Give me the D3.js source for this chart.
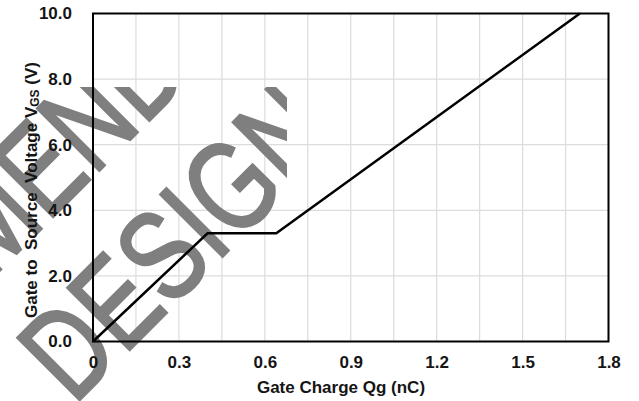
<!DOCTYPE html>
<html lang="en">
<head>
    <meta charset="utf-8">
    <title>Gate Charge</title>
    <script src="https://cdn.jsdelivr.net/npm/d3@7"></script>
</head>
<style>
  body { margin: 0; background: #fff; }
  text { font-family: "Liberation Sans", Arial, sans-serif; }
</style>
<body>
<script>
 // curve
 var qg  = [0, 0.40, 0.64, 1.70];
 var vgs = [0, 3.3, 3.3, 10.0];

 var xTicks = [0, 0.3, 0.6, 0.9, 1.2, 1.5, 1.8];
 var xGrid = d3.range(0, 1.81, 0.15);
 var yTicks = [0, 2, 4, 6, 8, 10];

 var watermark = ["NOT RECOMMENDED", "FOR NEW DESIGN"];

 var W = 639, H = 401;
 var pLeft = 93, pRight = 608.5, pTop = 13.5, pBottom = 341.5;

 var svg = d3.select("body").append("svg")
             .attr("width", W)
             .attr("height", H);

 var x = d3.scaleLinear().domain([0, 1.8]).range([pLeft, pRight]);
 var y = d3.scaleLinear().domain([0, 10]).range([pBottom, pTop]);

 // grid
 svg.append("g").selectAll("line").data(xGrid).enter().append("line")
    .attr("x1", d => x(d)).attr("x2", d => x(d))
    .attr("y1", pTop).attr("y2", pBottom)
    .attr("stroke", "#dcdcdc").attr("stroke-width", 1.2);
 svg.append("g").selectAll("line").data(yTicks).enter().append("line")
    .attr("x1", pLeft).attr("x2", pRight)
    .attr("y1", d => y(d)).attr("y2", d => y(d))
    .attr("stroke", "#dcdcdc").attr("stroke-width", 1.2);

 // watermark, under everything else, cut like the scan
 svg.append("clipPath").attr("id", "wm")
    .append("polygon").attr("points", "0,87 287,87 287,401 56,401 0,345");
 var wm = svg.append("g").attr("clip-path", "url(#wm)")
    .append("g").attr("transform", "translate(33.4,446) rotate(-45) scale(0.765,1)");
 wm.selectAll("text").data(watermark).enter().append("text")
    .attr("x", 0).attr("y", (d, i) => (i - 1) * 148)
    .attr("text-anchor", "middle")
    .attr("font-size", 128)
    .attr("fill", "#7f7f7f")
    .attr("stroke", "#7f7f7f").attr("stroke-width", 2.5)
    .text(d => d);

 // axes (labels only, frame drawn below)
 var xAxis = svg.append("g")
    .attr("transform", "translate(0," + pBottom + ")")
    .call(d3.axisBottom(x).tickValues(xTicks).tickSize(0).tickPadding(14)
          .tickFormat(d => d === 0 ? "0" : d3.format(".1f")(d)));
 var yAxis = svg.append("g")
    .attr("transform", "translate(" + pLeft + ",0)")
    .call(d3.axisLeft(y).tickValues(yTicks).tickSize(0).tickPadding(21)
          .tickFormat(d3.format(".1f")));
 [xAxis, yAxis].forEach(function(a) {
     a.select(".domain").remove();
     a.selectAll("text")
      .attr("font-family", "Liberation Sans, Arial, sans-serif")
      .attr("font-size", 17).attr("font-weight", "bold").attr("fill", "#151515");
 });

 // frame
 svg.append("rect")
    .attr("x", pLeft).attr("y", pTop)
    .attr("width", pRight - pLeft).attr("height", pBottom - pTop)
    .attr("fill", "none").attr("stroke", "#000").attr("stroke-width", 2);

 // curve
 var line = d3.line()
              .x(function(d, i) { return x(qg[i]); })
              .y(function(d, i) { return y(vgs[i]); });
 svg.append("path")
    .attr("d", line(qg))
    .attr("fill", "none")
    .attr("stroke", "#000")
    .attr("stroke-width", 2.5);

 // titles
 svg.append("text")
    .attr("x", 341).attr("y", 393)
    .attr("text-anchor", "middle")
    .attr("font-size", 17).attr("font-weight", "bold").attr("fill", "#151515")
    .text("Gate Charge Qg (nC)");

 var yt = svg.append("text")
    .attr("transform", "translate(37,190) rotate(-90)")
    .attr("text-anchor", "middle")
    .attr("font-size", 17).attr("font-weight", "bold").attr("fill", "#151515")
    .style("white-space", "pre");
 yt.append("tspan").text("Gate to  Source  Voltage V");
 yt.append("tspan").attr("font-size", 12).attr("dy", 2).text("GS");
 yt.append("tspan").attr("dy", -2).text(" (V)");
</script>
</body>
</html>
